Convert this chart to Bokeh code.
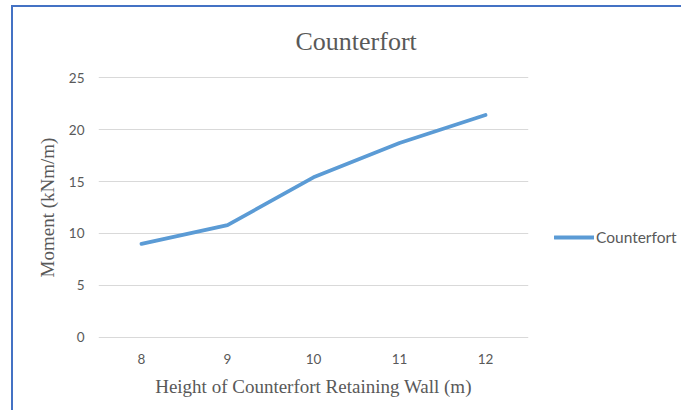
from bokeh.plotting import figure
from bokeh.layouts import row
from bokeh.models import Range1d, FactorRange, FixedTicker, Legend, LegendItem, ColumnDataSource
from bokeh.embed import file_html
from bokeh.resources import INLINE

heights = ["8", "9", "10", "11", "12"]
moment = [9.0, 10.8, 15.4, 18.7, 21.4]
y_ticks = [0, 5, 10, 15, 20, 25]
series_name = "Counterfort"

TXT = "#595959"
LINE = "#5B9BD5"
BORDER = "2px solid #4472C4"
SERIF = "Liberation Serif"
SANS = "Lato"

src = ColumnDataSource(dict(x=heights, y=moment))

# main chart
p = figure(width=525, height=405, x_range=FactorRange(*heights), y_range=Range1d(-0.1, 25.1),
           output_backend="svg", toolbar_location=None,
           min_border_left=85, min_border_right=10, min_border_top=69, min_border_bottom=74,
           title="Counterfort")
p.styles = {"border-left": BORDER, "border-top": BORDER, "margin-left": "11px", "margin-top": "5px"}

p.title.align = "left"
p.title.vertical_align = "top"
p.title.offset = 197
p.title.text_font = SERIF
p.title.text_font_size = "26px"
p.title.text_font_style = "normal"
p.title.text_color = TXT
p.title.standoff = 38

r = p.line("x", "y", source=src, line_color=LINE, line_width=3.8, line_cap="round", line_join="round")

p.outline_line_color = None
p.xgrid.grid_line_color = None
p.ygrid.grid_line_color = "#d9d9d9"
p.ygrid.grid_line_width = 1
p.yaxis.ticker = FixedTicker(ticks=y_ticks)

for ax in (p.xaxis[0], p.yaxis[0]):
    ax.axis_line_color = None
    ax.major_tick_line_color = None
    ax.minor_tick_line_color = None
    ax.major_label_text_font = SANS
    ax.major_label_text_font_size = "13.5px"
    ax.major_label_text_color = TXT
    ax.axis_label_text_font = SERIF
    ax.axis_label_text_font_size = "19px"
    ax.axis_label_text_font_style = "normal"
    ax.axis_label_text_color = TXT

p.xaxis.axis_label = "Height of Counterfort Retaining Wall (m)"
p.yaxis.axis_label = "Moment (kNm/m)"
p.xaxis.major_label_standoff = 9
p.xaxis.axis_label_standoff = 9
p.yaxis.major_label_standoff = 8
p.yaxis.axis_label_standoff = 8

# legend panel to the right of the chart
p2 = figure(width=145, height=405, x_range=FactorRange(*heights), y_range=Range1d(0, 25),
            output_backend="svg", toolbar_location=None,
            min_border_left=0, min_border_right=0, min_border_top=69, min_border_bottom=74,
            x_axis_location=None, y_axis_location=None)
p2.styles = {"border-top": BORDER, "margin-top": "5px"}
p2.outline_line_color = None
p2.grid.visible = False
r2 = p2.line("x", "y", source=src, line_color=LINE, line_width=3.8, line_cap="round")
r2.visible = False

legend = Legend(items=[LegendItem(label=series_name, renderers=[r2])], location=(18, 91))
legend.padding = 0
legend.margin = 0
legend.border_line_color = None
legend.background_fill_alpha = 0
legend.inactive_fill_alpha = 0
legend.glyph_width = 40
legend.label_standoff = 2
legend.label_text_font = SANS
legend.label_text_font_size = "15.5px"
legend.label_text_color = TXT
p2.add_layout(legend, "center")

layout = row(p, p2)
open("out.html", "w").write(file_html(layout, INLINE))
